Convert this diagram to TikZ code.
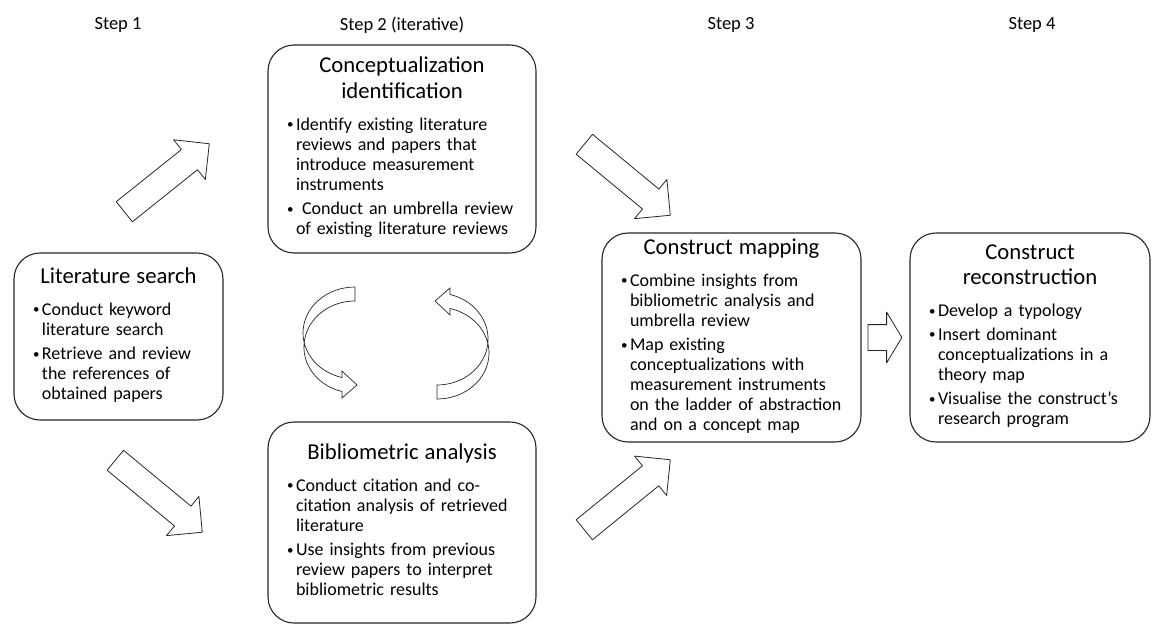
\documentclass[tikz,border=0pt]{standalone}
\usepackage{fontspec}
\setmainfont{Carlito}
\usetikzlibrary{shapes.arrows,calc}

\tikzset{
  stage/.style={draw=black!85, line width=1.1pt, rounded corners=26pt, fill=white,
    align=left, inner xsep=19pt, inner ysep=0pt, text=black,
    font=\fontsize{18}{20}\selectfont},
  steplabel/.style={text=black, font=\fontsize{18.5}{21}\selectfont},
  bigarrow/.style={single arrow, draw=black!85, line width=0.8pt, fill=white,
    inner xsep=0pt, inner ysep=12.5pt, single arrow head extend=12.5pt},
  loopline/.style={draw=black!85, line width=0.7pt, fill=white, line join=miter}
}
\newcommand\boxtitle[1]{{\centering\fontsize{22.7}{25.5}\selectfont #1\par}\vspace{8.5pt}}
\newcommand\bpoint[1]{\par\vspace{3.5pt}\noindent
  \makebox[9pt][l]{\raisebox{1.5pt}{\fontsize{13}{13}\selectfont\textbullet}}%
  \begin{tabular}[t]{@{}l@{}}#1\end{tabular}\par}

\begin{document}
\begin{tikzpicture}[x=1pt, y=1pt, line join=round]
  \useasboundingbox (0,0) rectangle (1153,-626);

  % 단계
  \node[steplabel] (step1) at (118,-25)  {Step 1};
  \node[steplabel] (step2) at (402,-25)  {Step 2 (iterative)};
  \node[steplabel] (step3) at (731,-25)  {Step 3};
  \node[steplabel] (step4) at (1032,-25) {Step 4};

  % 상자
  \node[stage, text width=171pt, minimum height=167pt] (search) at (118.5,-336.5) {%
    \boxtitle{Literature search}
    \bpoint{Conduct keyword\\literature search}
    \bpoint{Retrieve and review\\the references of\\obtained papers}};
  \node[stage, text width=230pt, minimum height=208pt] (ident) at (402,-149) {%
    \boxtitle{Conceptualization\\identification}
    \bpoint{Identify existing literature\\reviews and papers that\\introduce measurement\\instruments}
    \bpoint{\ Conduct an umbrella review\\of existing literature reviews}};
  \node[stage, text width=230pt, minimum height=201pt] (biblio) at (402,-522.5) {%
    \boxtitle{Bibliometric analysis}
    \bpoint{Conduct citation and co-\\citation analysis of retrieved\\literature}
    \bpoint{Use insights from previous\\review papers to interpret\\bibliometric results}};
  \node[stage, text width=221pt, minimum height=209pt] (mapping) at (731.5,-337.5) {%
    \boxtitle{Construct mapping}
    \bpoint{Combine insights from\\bibliometric analysis and\\umbrella review}
    \bpoint{Map existing\\conceptualizations with\\measurement instruments\\on the ladder of abstraction\\and on a concept map}};
  \node[stage, text width=202pt, minimum height=209pt] (recon) at (1030,-337.5) {%
    \boxtitle{Construct\\reconstruction}
    \bpoint{Develop a typology}
    \bpoint{Insert dominant\\conceptualizations in a\\theory map}
    \bpoint{Visualise the construct’s\\research program}};

  % 화살표
  \coordinate (s1) at (124,-212); \coordinate (e1) at (209,-144);
  \coordinate (s2) at (115,-460); \coordinate (e2) at (202,-532);
  \coordinate (s3) at (584,-144); \coordinate (e3) at (670,-215);
  \coordinate (s4) at (584,-530); \coordinate (e4) at (670,-460);
  \coordinate (s5) at ($(mapping.east)+(6,0)$);
  \coordinate (e5) at ($(recon.west)+(-8,0)$);
  \foreach \s/\e/\tipang in {s1/e1/90, s2/e2/90, s3/e3/90, s4/e4/90, s5/e5/118}
    \path let \p1=($(\e)-(\s)$), \n1={veclen(\x1,\y1)}, \n2={atan2(\y1,\x1)} in
      node[bigarrow, single arrow tip angle=\tipang, minimum height=\n1,
           rotate=\n2, anchor=tail] at (\s) {};

  % 반복 화살표
  \foreach \r in {0,180}
    \draw[loopline, rotate around={\r:(396,-343)}]
      (355,-287) arc[start angle=90, end angle=255.5, x radius=52, y radius=46]
      -- (342,-371) -- (357,-385) -- (342,-398) -- (342,-391.5)
      arc[start angle=255.3, end angle=90, x radius=51, y radius=46] -- cycle;
\end{tikzpicture}
\end{document}
